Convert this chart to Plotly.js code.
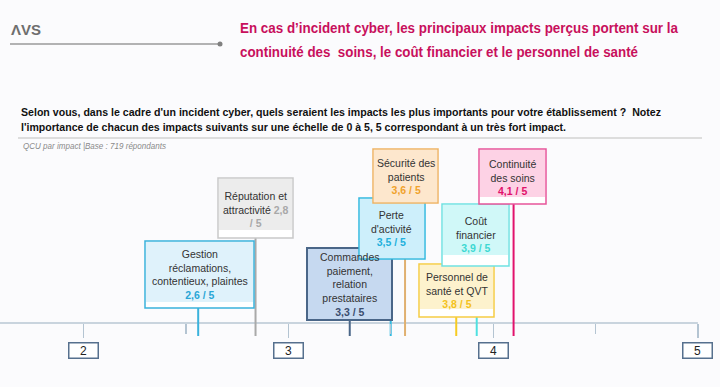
<!DOCTYPE html>
<html><head><meta charset="utf-8">
<script src="https://cdn.plot.ly/plotly-3.0.1.min.js"></script>
<style>
html,body{margin:0;padding:0;background:#fbfbfd;}
#chart{width:720px;height:387px;}
</style>
</head><body><div id="chart"></div>
<script>
// ---------- DATA ----------
const categoryLines = [
  ["Gestion", "réclamations,", "contentieux, plaintes"],
  ["Réputation et", "attractivité"],
  ["Commandes", "paiement,", "relation", "prestataires"],
  ["Perte", "d'activité"],
  ["Sécurité des", "patients"],
  ["Personnel de", "santé et QVT"],
  ["Coût", "financier"],
  ["Continuité", "des soins"]
];
const scores = [2.56, 2.84, 3.30, 3.50, 3.57, 3.82, 3.92, 4.10];
const scaleMax = 5;
const tickValues = [2, 3, 4, 5];
const tickLabels = ["2", "3", "4", "5"];
const titleLines = [
  "En cas d\u2019incident cyber, les principaux impacts perçus portent sur la",
  "continuité des\u00a0 soins, le coût financier et le personnel de santé"
];
const questionLines = [
  "Selon vous, dans le cadre d'un incident cyber, quels seraient les impacts les plus importants pour votre établissement ?\u00a0 Notez",
  "l'importance de chacun des impacts suivants sur une échelle de 0 à 5, 5 correspondant à un très fort impact."
];
const baseNote = "QCU par impact |Base : 719 répondants";

// ---------- LAYOUT / STYLE (pixels) ----------
const W = 720, H = 387;
const PPU = 204.8, X2PX = 83.5;
const XMIN = 2 - X2PX / PPU, XMAX = XMIN + W / PPU;
const AXIS_Y = 323, LINE_END = 336;
const boxStyles = [
  {l:145,t:241,r:254,b:308,band:5, ty:274, fill:'#dff2fb', border:'#3ab2dc', line:'#3ab2dc', val:'#2aa6d6', inline:false},
  {l:218,t:178,r:293,b:238,band:7, ty:209, fill:'#ececec', border:'#c9c9c9', line:'#a9a9a9', val:'#a8a8a8', inline:true},
  {l:307,t:248,r:392,b:320,band:0, ty:284, fill:'#c6d9f0', border:'#4a6688', line:'#4a6688', val:'#3a4d6e', inline:false},
  {l:359,t:198,r:425,b:259,band:0, ty:228, fill:'#cdeffb', border:'#32b9e0', line:'#32b9e0', val:'#22b0dc', inline:false},
  {l:373,t:149,r:438,b:203,band:0, ty:176, fill:'#fde7cd', border:'#f0b464', line:'#e0b070', val:'#f0a22c', inline:false},
  {l:419,t:264,r:494,b:317,band:7, ty:290, fill:'#fdf2cd', border:'#f6cd44', line:'#f6cb22', val:'#f4c21c', inline:false},
  {l:442,t:204,r:509,b:266,band:10,ty:234, fill:'#d0f8f8', border:'#70e2e2', line:'#4fe0e0', val:'#3ed8d2', inline:false},
  {l:479,t:149,r:546,b:204,band:6, ty:177, fill:'#fdd2e5', border:'#e8559a', line:'#e2126c', val:'#e0106a', inline:false}
];
const FONT = '"Liberation Sans", Arial, sans-serif';
const px2paper = p => p / W;
const fmt = v => v.toFixed(1).replace('.', ',');

const traces = [];
const shapes = [];
const annotations = [];
const squeeze = {}; // annotation index -> {left, width} (px)

// vertical marker lines, from box bottom to below the axis
scores.forEach((v, i) => {
  const s = boxStyles[i];
  traces.push({
    x: [v, v], y: [s.b, LINE_END], mode: 'lines', type: 'scatter',
    line: {color: s.line, width: 2}, hoverinfo: 'skip', showlegend: false,
    cliponaxis: false
  });
});

// axis baseline
shapes.push({type:'line', xref:'x', yref:'y', x0:XMIN, x1:scaleMax, y0:AXIS_Y, y1:AXIS_Y,
  line:{color:'#b9c7d3', width:1.5}, layer:'below'});

// boxes
boxStyles.forEach((s, i) => {
  shapes.push({type:'rect', xref:'paper', yref:'y', x0:px2paper(s.l), x1:px2paper(s.r), y0:s.t, y1:s.b,
    fillcolor:'#ffffff', line:{color:s.border, width: i===2 ? 2 : 1.5}, layer:'above'});
  shapes.push({type:'rect', xref:'paper', yref:'y', x0:px2paper(s.l+1), x1:px2paper(s.r-1), y0:s.t+1, y1:s.b-1-s.band,
    fillcolor:s.fill, line:{width:0}, layer:'above'});
  const val = '<b><span style="color:' + s.val + '">' + fmt(scores[i]) + ' / 5</span></b>';
  let text;
  if (s.inline) {
    const lines = categoryLines[i].slice();
    lines[lines.length-1] += ' <b><span style="color:' + s.val + '">' + fmt(scores[i]) + '</span></b>';
    text = lines.join('<br>') + '<br><b><span style="color:' + s.val + '">/ 5</span></b>';
  } else {
    text = categoryLines[i].join('<br>') + '<br>' + val;
  }
  annotations.push({xref:'paper', yref:'y', x:px2paper((s.l+s.r)/2), y:s.ty, text:text,
    showarrow:false, xanchor:'center', yanchor:'middle', align:'center',
    font:{family:FONT, size:10.5, color:'#333333'}});
});

// tick label boxes
tickValues.forEach((v, i) => {
  annotations.push({xref:'x', yref:'y', x:v, y:350, text:tickLabels[i], showarrow:false,
    xanchor:'center', yanchor:'middle', width:26, height:12, borderpad:1,
    bordercolor:'#56708e', borderwidth:1.5, bgcolor:'#ffffff',
    font:{family:FONT, size:12, color:'#222222'}});
});

// header: logo + rule
annotations.push({xref:'paper', yref:'y', x:px2paper(9), y:29, text:'<b>ΛVS</b>', showarrow:false,
  xanchor:'left', yanchor:'middle', font:{family:FONT, size:15, color:'#6e6e6e'}});
shapes.push({type:'line', xref:'paper', yref:'y', x0:px2paper(10), x1:px2paper(220), y0:44, y1:44,
  line:{color:'#9a9a9a', width:1.5}});
shapes.push({type:'circle', xref:'paper', yref:'y', x0:px2paper(217.5), x1:px2paper(222.5), y0:41.5, y1:46.5,
  fillcolor:'#808080', line:{width:0}});

function addText(x, y, text, size, color, targetW) {
  squeeze[annotations.length] = {left: x, width: targetW};
  annotations.push({xref:'paper', yref:'y', x:px2paper(x), y:y, text:text, showarrow:false,
    xanchor:'left', yanchor:'middle', width: targetW + 4, borderpad:0,
    font:{family:FONT, size:size, color:color}});
}
// title
addText(240, 28, '<b>'+titleLines[0]+'</b>', 14.5, '#c8105c', 438);
addText(240, 52, '<b>'+titleLines[1]+'</b>', 14.5, '#c8105c', 398);
// question
addText(21, 112, '<b>'+questionLines[0]+'</b>', 11.5, '#111111', 640);
addText(21, 127, '<b>'+questionLines[1]+'</b>', 11.5, '#111111', 545);
shapes.push({type:'line', xref:'paper', yref:'y', x0:px2paper(18), x1:px2paper(702), y0:138, y1:138,
  line:{color:'#dddddd', width:2}});
addText(23, 145.5, '<i>'+baseNote+'</i>', 8.5, '#8a8a8a', 143);

const layout = {
  width: W, height: H,
  margin: {l:0, r:0, t:0, b:0, pad:0},
  paper_bgcolor: '#fbfbfd', plot_bgcolor: 'rgba(0,0,0,0)',
  showlegend: false,
  xaxis: {range:[XMIN, XMAX], anchor:'free', position:(H-AXIS_Y)/H, showline:false, showgrid:false,
    zeroline:false, ticks:'outside', tickvals:tickValues, ticklen:14, tickwidth:1.2, tickcolor:'#b4c4d2',
    showticklabels:false, fixedrange:true,
    minor:{dtick:0.5, ticks:'outside', ticklen:10, tickwidth:1.2, tickcolor:'#b4c4d2', showgrid:false}},
  yaxis: {range:[H, 0], visible:false, showgrid:false, zeroline:false, fixedrange:true},
  shapes: shapes,
  annotations: annotations
};

Plotly.newPlot('chart', traces, layout, {displayModeBar:false, staticPlot:true}).then(gd => {
  // condense the header texts to the reference's narrow lettering, keeping them left-aligned
  Object.keys(squeeze).forEach(k => {
    const g = gd.querySelector('.annotation[data-index="' + k + '"]');
    if (!g) return;
    const t = g.querySelector('text.annotation-text');
    if (!t) return;
    t.setAttribute('textLength', squeeze[k].width);
    t.setAttribute('lengthAdjust', 'spacingAndGlyphs');
    const bb = t.getBoundingClientRect();
    const host = gd.getBoundingClientRect();
    const dx = squeeze[k].left - (bb.left - host.left);
    const prev = t.getAttribute('transform') || '';
    t.setAttribute('transform', 'translate(' + dx + ',0) ' + prev);
  });
});
</script>
</body></html>
